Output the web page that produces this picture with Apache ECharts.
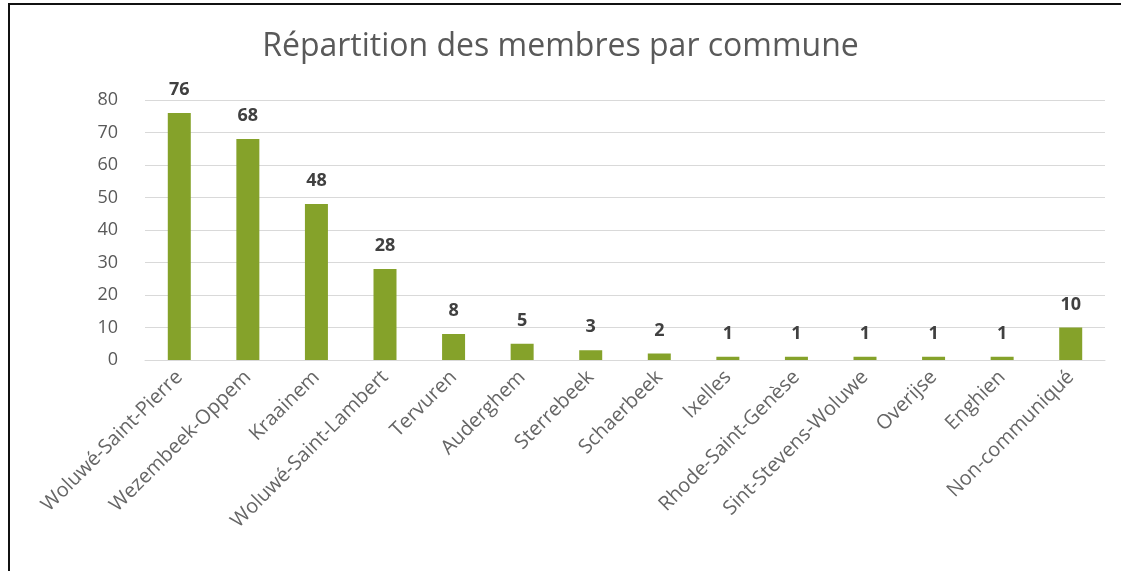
<!DOCTYPE html>
<html>
<head>
<meta charset="utf-8">
<script src="https://cdn.jsdelivr.net/npm/echarts@6/dist/echarts.min.js"></script>
<style>
  html, body { margin: 0; padding: 0; background: #fff; }
  #frame { position: absolute; left: 8px; top: 3px; width: 1113px; height: 568px;
           border-left: 2px solid #111; border-top: 2px solid #111; box-sizing: border-box; }
  #chart { position: absolute; left: 0; top: 0; width: 1121px; height: 571px; }
</style>
</head>
<body>
<div id="frame"></div>
<div id="chart"></div>
<script>
const communes = [
  'Woluwé-Saint-Pierre', 'Wezembeek-Oppem', 'Kraainem', 'Woluwé-Saint-Lambert',
  'Tervuren', 'Auderghem', 'Sterrebeek', 'Schaerbeek', 'Ixelles',
  'Rhode-Saint-Genèse', 'Sint-Stevens-Woluwe', 'Overijse', 'Enghien', 'Non-communiqué'
];
const membres = [76, 68, 48, 28, 8, 5, 3, 2, 1, 1, 1, 1, 1, 10];
const yTicks = [0, 10, 20, 30, 40, 50, 60, 70, 80];

const chart = echarts.init(document.getElementById('chart'));

chart.setOption({
  backgroundColor: 'transparent',
  title: {
    text: 'Répartition des membres par commune',
    left: 'center',
    top: 26,
    textStyle: { fontFamily: 'Open Sans', fontWeight: 'normal', fontSize: 32, color: '#595959' }
  },
  grid: { left: 145, right: 16, top: 100, bottom: 211 },
  xAxis: {
    type: 'category',
    data: communes,
    axisLine: { lineStyle: { color: '#d9d9d9' } },
    axisTick: { show: false },
    axisLabel: {
      rotate: 45, interval: 0, margin: 14,
      fontFamily: 'Open Sans', fontSize: 20, color: '#666666'
    }
  },
  yAxis: {
    type: 'value',
    min: yTicks[0],
    max: yTicks[yTicks.length - 1],
    interval: 10,
    axisLine: { show: false },
    axisTick: { show: false },
    splitLine: { lineStyle: { color: '#d9d9d9' } },
    axisLabel: { margin: 27, fontFamily: 'Open Sans', fontSize: 18, color: '#595959' }
  },
  series: [{
    type: 'bar',
    data: membres,
    barWidth: 23,
    itemStyle: { color: '#85a22a' },
    label: {
      show: true, position: 'top', distance: 14,
      fontFamily: 'Open Sans', fontWeight: 'bold', fontSize: 18, color: '#404040'
    }
  }]
});
</script>
</body>
</html>
